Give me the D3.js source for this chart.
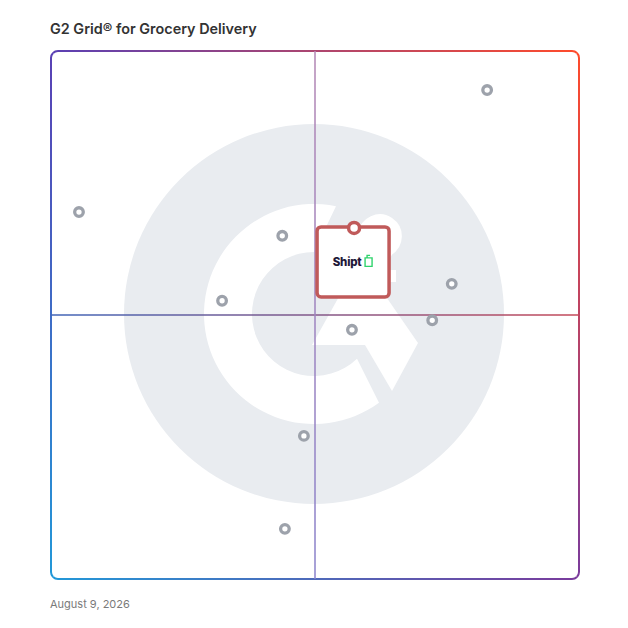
<!DOCTYPE html>
<html>
<head>
  <meta charset="UTF-8">
  <style>
    body { margin: 0; background: #fff; }
  </style>
</head>
<body>
<div id="grid_div"></div>

<script src="https://d3js.org/d3.v7.min.js"></script>
<script>

let width = 628, height = 628;

// chart data (0-100 on both axes: market presence / satisfaction)
const vendorNames = ["P1", "P2", "P3", "P4", "P5", "P6", "P7", "P8", "P9"];
const presenceValues = [5.3, 82.6, 43.8, 32.4, 75.9, 72.2, 57.0, 47.9, 44.3];
const satisfactionValues = [69.5, 92.6, 65.0, 52.7, 55.9, 49.0, 47.2, 27.1, 9.5];
const featuredName = ["Shipt"];
const featuredValues = [57.4, 66.5];
const titleText = "G2 Grid\u00AE for Grocery Delivery";
const dateText = "August 9, 2026";

const svg = d3.select("#grid_div")
  .append("svg")
  .attr("width", width)
  .attr("height", height)
  .style("font-family", "Inter, 'Noto Sans', sans-serif");

const x0 = 51, x1 = 579, y0 = 51, y1 = 579;
const x = d3.scaleLinear().domain([0, 100]).range([x0, x1]);
const y = d3.scaleLinear().domain([0, 100]).range([y1, y0]);

const defs = svg.append("defs");

// colours at the corners of the frame
const cTL = "#5a40b4", cTR = "#ff4b2b", cBL = "#2298d8", cBR = "#7a3b9c";

function linGrad(id, xa, ya, xb, yb, ca, cb) {
  let g = defs.append("linearGradient")
    .attr("id", id)
    .attr("gradientUnits", "userSpaceOnUse")
    .attr("x1", xa).attr("y1", ya).attr("x2", xb).attr("y2", yb);
  g.append("stop").attr("offset", 0).attr("stop-color", ca);
  g.append("stop").attr("offset", 1).attr("stop-color", cb);
}
linGrad("gTop", x0, y0, x1, y0, cTL, cTR);
linGrad("gRight", x1, y0, x1, y1, cTR, cBR);
linGrad("gBottom", x0, y1, x1, y1, cBL, cBR);
linGrad("gLeft", x0, y0, x0, y1, cTL, cBL);
linGrad("gH", x0, 0, x1, 0, "#4266b8", "#c44a5a");
linGrad("gV", 0, y0, 0, y1, "#b386b4", "#8a82cb");

// title
svg.append("text")
  .attr("x", 50).attr("y", 34)
  .attr("fill", "#333")
  .attr("font-size", 14.4)
  .attr("font-weight", 600)
  .text(titleText);

// G2 watermark
const cx = (x0 + x1) / 2 - 1, cy = (y0 + y1) / 2 - 1, R = 190;
const logo = svg.append("g").attr("transform", `translate(${cx},${cy})`);
logo.append("circle").attr("r", R).attr("fill", "#e9ecf0");
let ro = 110, ri = 62;
logo.append("path")
  .attr("fill", "#fff")
  .attr("d", `M 22 ${-Math.sqrt(ro*ro-22*22)} A ${ro} ${ro} 0 1 0 65 ${Math.sqrt(ro*ro-65*65)}
              L 43 ${Math.sqrt(ri*ri-43*43)} A ${ri} ${ri} 0 1 1 0 ${-ri} Z`);
logo.append("path")
  .attr("fill", "#fff")
  .attr("d", "M -2 31 L 46 -55 L 104 29 L 78 77 L 51 31 Z");
logo.append("path")
  .attr("fill", "none")
  .attr("stroke", "#fff")
  .attr("stroke-width", 12)
  .attr("d", "M 50 -80 A 16 16 0 1 1 74 -64 L 56 -38 L 82 -38");

// frame, one gradient per side clipped to a triangle
const mx = (x0 + x1) / 2, my = (y0 + y1) / 2;
const sides = [
  ["gTop", [[mx, my], [x0 - 5, y0 - 5], [x1 + 5, y0 - 5]]],
  ["gRight", [[mx, my], [x1 + 5, y0 - 5], [x1 + 5, y1 + 5]]],
  ["gBottom", [[mx, my], [x1 + 5, y1 + 5], [x0 - 5, y1 + 5]]],
  ["gLeft", [[mx, my], [x0 - 5, y1 + 5], [x0 - 5, y0 - 5]]]
];
sides.forEach(s => {
  defs.append("clipPath").attr("id", "clip_" + s[0])
    .append("polygon").attr("points", s[1].map(p => p.join(",")).join(" "));
  svg.append("rect")
    .attr("x", x0).attr("y", y0)
    .attr("width", x1 - x0).attr("height", y1 - y0)
    .attr("rx", 7)
    .attr("fill", "none")
    .attr("stroke", `url(#${s[0]})`)
    .attr("stroke-width", 2)
    .attr("clip-path", `url(#clip_${s[0]})`);
});

// quadrant lines
svg.append("rect")
  .attr("x", x0).attr("y", y(50) - 0.75)
  .attr("width", x1 - x0).attr("height", 1.5)
  .attr("fill", "url(#gH)");
svg.append("rect")
  .attr("x", x(50) - 0.75).attr("y", y0)
  .attr("width", 1.5).attr("height", y1 - y0)
  .attr("fill", "url(#gV)");

// other vendors
svg.append("g")
  .selectAll("circle")
  .data(vendorNames)
  .join("circle")
  .attr("cx", (d, i) => x(presenceValues[i]))
  .attr("cy", (d, i) => y(satisfactionValues[i]))
  .attr("r", 4.3)
  .attr("fill", "#fff")
  .attr("stroke", "#9da2ab")
  .attr("stroke-width", 3.3);

// featured vendor card
const fx = x(featuredValues[0]), fy = y(featuredValues[1]);
const card = svg.append("g").attr("transform", `translate(${fx},${fy})`);
card.append("rect")
  .attr("x", -37).attr("y", -1)
  .attr("width", 72).attr("height", 70)
  .attr("rx", 4)
  .attr("fill", "#fff")
  .attr("stroke", "#c05a5a")
  .attr("stroke-width", 3.5);
card.append("circle")
  .attr("r", 5.5)
  .attr("fill", "#fff")
  .attr("stroke", "#c05a5a")
  .attr("stroke-width", 3.5);
card.append("text")
  .attr("x", -7).attr("y", 38)
  .attr("text-anchor", "middle")
  .attr("fill", "#1e1838")
  .attr("font-size", 11.5)
  .attr("font-weight", 800)
  .attr("letter-spacing", -0.2)
  .text(featuredName[0]);
// little bag glyph of the Shipt logo
card.append("path")
  .attr("fill", "none")
  .attr("stroke", "#2fd36c")
  .attr("stroke-width", 1.4)
  .attr("d", "M 11 30 L 11 38.5 L 18 38.5 L 18 30 Z M 13 30 L 13 27.5 L 16 27.5");

// date
svg.append("text")
  .attr("x", 50).attr("y", 608)
  .attr("fill", "#7a7a7a")
  .attr("font-size", 11)
  .text(dateText);

</script>

</body>
</html>
